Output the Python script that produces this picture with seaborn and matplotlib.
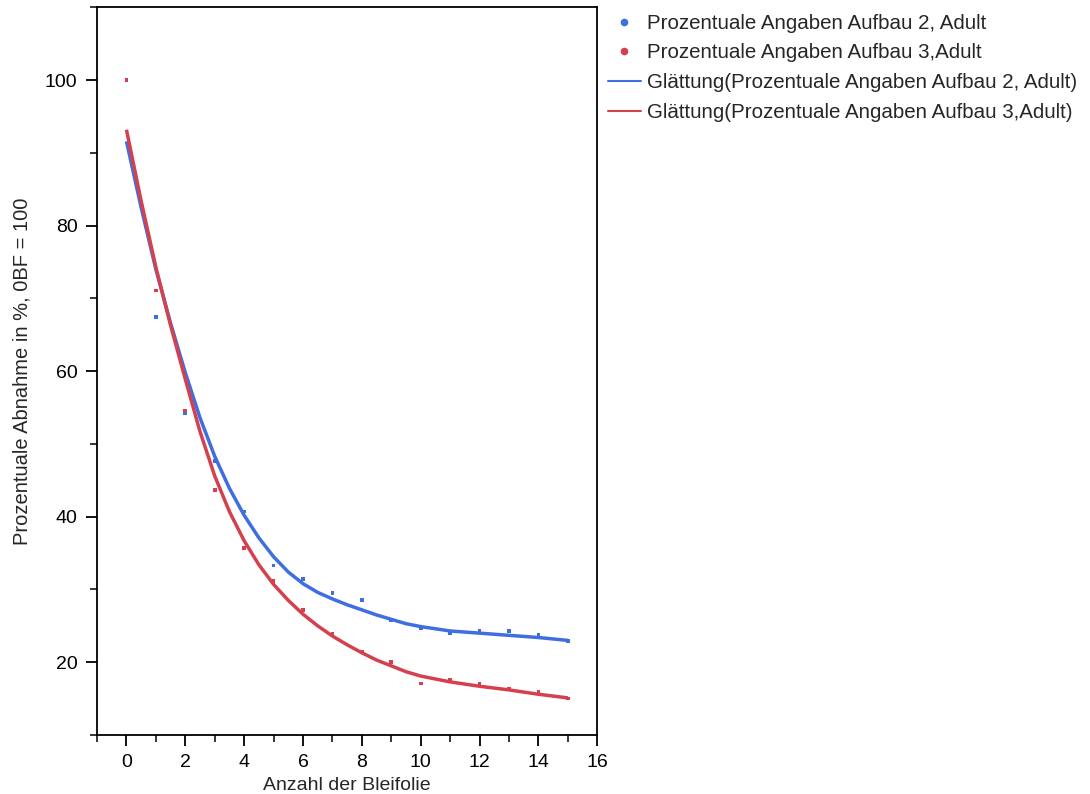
import numpy as np
import pandas as pd
import matplotlib
matplotlib.use("Agg")
import matplotlib.pyplot as plt
from matplotlib.lines import Line2D
from matplotlib.ticker import MultipleLocator
import seaborn as sns

# ---- data ----
x_points = [0, 1, 2, 3, 4, 5, 6, 7, 8, 9, 10, 11, 12, 13, 14, 15]
aufbau2 = [100, 67.5, 54.3, 47.7, 40.7, 33.3, 31.4, 29.5, 28.6, 25.8, 24.7, 24.0, 24.3, 24.3, 23.8, 22.9]
aufbau3 = [100, 71.1, 54.6, 43.7, 35.7, 31.2, 27.2, 23.9, 21.4, 20.0, 17.1, 17.6, 17.1, 16.3, 15.9, 15.0]

x_smooth = [0, 0.5, 1, 1.5, 2, 2.5, 3, 3.5, 4, 4.5, 5, 5.5, 6, 6.5, 7, 7.5, 8, 8.5, 9, 9.5,
            10, 11, 12, 13, 14, 15]
smooth2 = [91.6, 82.5, 74.0, 66.6, 59.8, 53.6, 48.3, 43.9, 40.2, 37.1, 34.5, 32.4, 30.8, 29.6, 28.7,
           27.9, 27.2, 26.5, 25.9, 25.3, 24.9, 24.3, 24.0, 23.7, 23.4, 23.0]
smooth3 = [93.2, 83.4, 74.3, 66.3, 58.9, 51.7, 45.6, 40.7, 36.7, 33.4, 30.7, 28.5, 26.6, 25.0, 23.6,
           22.4, 21.3, 20.3, 19.5, 18.7, 18.1, 17.3, 16.7, 16.2, 15.6, 15.1]

labels = ["Prozentuale Angaben Aufbau 2, Adult",
          "Prozentuale Angaben Aufbau 3,Adult",
          "Glättung(Prozentuale Angaben Aufbau 2, Adult)",
          "Glättung(Prozentuale Angaben Aufbau 3,Adult)"]
x_label = "Anzahl der Bleifolie"
y_label = "Prozentuale Abnahme in %, 0BF = 100"

blue = "#3f6ee0"
red = "#d5404f"

sns.set_style("ticks")
plt.rcParams['font.family'] = ['Liberation Sans', 'DejaVu Sans']

fig = plt.figure(figsize=(10.9, 7.94), dpi=100)
ax = fig.add_axes([0.089, 0.0743, 0.459, 0.9163])

df_pts = pd.DataFrame({"x": x_points + x_points,
                       "y": aufbau2 + aufbau3,
                       "s": [labels[0]] * len(x_points) + [labels[1]] * len(x_points)})
df_fit = pd.DataFrame({"x": x_smooth + x_smooth,
                       "y": smooth2 + smooth3,
                       "s": [labels[2]] * len(x_smooth) + [labels[3]] * len(x_smooth)})

sns.lineplot(data=df_fit, x="x", y="y", hue="s", palette=[blue, red], linewidth=2.5,
             ax=ax, legend=False, sort=False, zorder=2)
for l in ax.get_lines():
    l.set_solid_joinstyle("round")
    l.set_solid_capstyle("butt")
sns.scatterplot(data=df_pts, x="x", y="y", hue="s", palette=[blue, red], marker="s", s=7,
                linewidth=0, ax=ax, legend=False, zorder=3)

ax.set_xlim(-1, 16)
ax.set_ylim(10, 110)
ax.xaxis.set_major_locator(MultipleLocator(2))
ax.xaxis.set_minor_locator(MultipleLocator(1))
ax.yaxis.set_major_locator(MultipleLocator(20))
ax.yaxis.set_minor_locator(MultipleLocator(10))
ax.set_yticks([20, 40, 60, 80, 100])
ax.set_ylim(10, 110)
ax.tick_params(which="major", direction="out", length=8, width=1.3, labelsize=14, pad=6, colors="black")
ax.tick_params(which="minor", direction="out", length=5, width=1.3)
for sp in ax.spines.values():
    sp.set_linewidth(1.3)
    sp.set_color("black")
    sp.set_visible(True)

ax.set_xlabel(x_label, fontsize=14, labelpad=4)
ax.set_ylabel(y_label, fontsize=14.5, labelpad=10)

handles = [
    Line2D([], [], linestyle="none", marker="o", markersize=4.5, color=blue),
    Line2D([], [], linestyle="none", marker="o", markersize=4.5, color=red),
    Line2D([], [], color=blue, linewidth=1.5),
    Line2D([], [], color=red, linewidth=1.5),
]
fig.legend(handles, labels, loc="upper left", bbox_to_anchor=(0.550, 0.993), frameon=False,
           fontsize=14.8, handlelength=1.6, handletextpad=0.3, labelspacing=0.52, borderaxespad=0)

fig.savefig("out.png", dpi=100)
